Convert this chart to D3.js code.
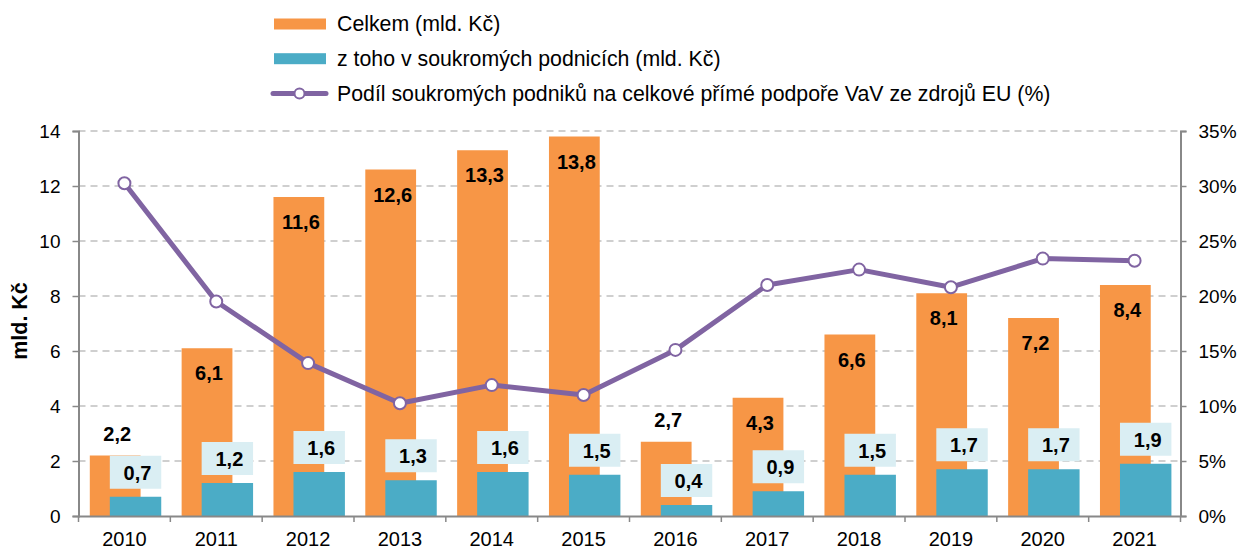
<!DOCTYPE html>
<html>
<head>
<meta charset="utf-8">
<script src="https://cdn.jsdelivr.net/npm/d3@7"></script>
<style>
	body { margin: 0; background: #fff; }
	svg { display: block; font-family: "Liberation Sans", Arial, sans-serif; }
</style>
</head>
<body>
<svg id="chart" width="1242" height="551"></svg>
<script>
	'use strict';

	var years = ["2010", "2011", "2012", "2013", "2014", "2015", "2016", "2017", "2018", "2019", "2020", "2021"];
	var celkem = [2.2, 6.1, 11.6, 12.6, 13.3, 13.8, 2.7, 4.3, 6.6, 8.1, 7.2, 8.4];
	var soukrome = [0.7, 1.2, 1.6, 1.3, 1.6, 1.5, 0.4, 0.9, 1.5, 1.7, 1.7, 1.9];
	var podil = [30.25, 19.5, 13.9, 10.25, 11.9, 11.0, 15.1, 21.0, 22.4, 20.8, 23.4, 23.2];
	var leftTicks = [0, 2, 4, 6, 8, 10, 12, 14];
	var rightTicks = [0, 5, 10, 15, 20, 25, 30, 35];
	var legendNames = [
		"Celkem (mld. Kč)",
		"z toho v soukromých podnicích (mld. Kč)",
		"Podíl soukromých podniků na celkové přímé podpoře VaV ze zdrojů EU (%)"
	];

	var orange = "#F79646",
		teal = "#4BACC6",
		purple = "#8064A2",
		boxFill = "#DAEEF3",
		axisGrey = "#888888",
		gridGrey = "#C0C0C0";

	var fmt = function (v) {
		return d3.format(".1f")(v).replace(".", ",");
	};

	var svg = d3.select("#chart");
	var plotLeft = 78.5, plotRight = 1180.5, plotTop = 131, plotBottom = 516;

	var x = d3.scaleBand().domain(years).range([plotLeft, plotRight]).padding(0);
	var y = d3.scaleLinear().domain([0, 14]).range([plotBottom, plotTop]);
	var y2 = d3.scaleLinear().domain([0, 35]).range([plotBottom, plotTop]);
	var bw = x.bandwidth();

	// gridlines
	svg.append("g").selectAll("line")
		.data(leftTicks.filter(function (d) { return d > 0; }))
		.enter().append("line")
		.attr("x1", plotLeft).attr("x2", plotRight)
		.attr("y1", function (d) { return y(d); })
		.attr("y2", function (d) { return y(d); })
		.attr("stroke", gridGrey)
		.attr("stroke-width", 1.5)
		.attr("stroke-dasharray", "7,5");

	// bars
	svg.append("g").selectAll("rect")
		.data(celkem)
		.enter().append("rect")
		.attr("x", function (d, i) { return x(years[i]) + bw * 0.123; })
		.attr("width", bw * 0.553)
		.attr("y", function (d) { return y(d); })
		.attr("height", function (d) { return y(0) - y(d); })
		.attr("fill", orange);

	svg.append("g").selectAll("rect")
		.data(soukrome)
		.enter().append("rect")
		.attr("x", function (d, i) { return x(years[i]) + bw * 0.341; })
		.attr("width", bw * 0.56)
		.attr("y", function (d) { return y(d); })
		.attr("height", function (d) { return y(0) - y(d); })
		.attr("fill", teal);

	// label boxes for teal bars
	var boxes = svg.append("g").selectAll("g")
		.data(soukrome)
		.enter().append("g")
		.attr("transform", function (d, i) {
			return "translate(" + (x(years[i]) + bw * 0.341) + "," + (y(d) - 8 - 33) + ")";
		});
	boxes.append("rect")
		.attr("width", bw * 0.56)
		.attr("height", 33)
		.attr("fill", boxFill);
	boxes.append("text")
		.attr("x", bw * 0.28 + 2)
		.attr("y", 17)
		.attr("dy", "0.35em")
		.attr("text-anchor", "middle")
		.attr("font-size", 20)
		.attr("font-weight", "bold")
		.text(fmt);

	// axes
	var gLeft = svg.append("g").attr("transform", "translate(" + plotLeft + ",0)")
		.call(d3.axisLeft(y).tickValues(leftTicks).tickSize(6).tickPadding(12).tickFormat(d3.format("d")));
	var gRight = svg.append("g").attr("transform", "translate(" + plotRight + ",0)")
		.call(d3.axisRight(y2).tickValues(rightTicks).tickSize(6).tickPadding(12).tickFormat(function (d) { return d + "%"; }));
	var gBottom = svg.append("g").attr("transform", "translate(0," + plotBottom + ")")
		.call(d3.axisBottom(x).tickSize(0).tickPadding(16));

	[gLeft, gRight, gBottom].forEach(function (g) {
		g.select(".domain").attr("stroke", axisGrey).attr("stroke-width", 2);
		g.selectAll(".tick line").attr("stroke", axisGrey).attr("stroke-width", 1.5);
		g.selectAll("text").attr("fill", "#000").attr("font-family", "Liberation Sans, Arial, sans-serif");
	});
	gLeft.selectAll("text").attr("font-size", 19);
	gRight.selectAll("text").attr("font-size", 19);
	gBottom.selectAll("text").attr("font-size", 20);

	// category boundary ticks on the x axis
	svg.append("g").selectAll("line")
		.data(years.map(function (d) { return x(d); }).concat([plotRight]))
		.enter().append("line")
		.attr("x1", function (d) { return d; })
		.attr("x2", function (d) { return d; })
		.attr("y1", plotBottom).attr("y2", plotBottom + 6)
		.attr("stroke", axisGrey).attr("stroke-width", 1.5);

	// share line
	var line = d3.line()
		.x(function (d, i) { return x(years[i]) + bw / 2; })
		.y(function (d) { return y2(d); });
	svg.append("path")
		.datum(podil)
		.attr("d", line)
		.attr("fill", "none")
		.attr("stroke", purple)
		.attr("stroke-width", 5)
		.attr("stroke-linejoin", "round");
	svg.append("g").selectAll("circle")
		.data(podil)
		.enter().append("circle")
		.attr("cx", function (d, i) { return x(years[i]) + bw / 2; })
		.attr("cy", function (d) { return y2(d); })
		.attr("r", 6)
		.attr("fill", "#fff")
		.attr("stroke", purple)
		.attr("stroke-width", 2);

	// labels for orange bars
	svg.append("g").selectAll("text")
		.data(celkem)
		.enter().append("text")
		.attr("x", function (d, i) { return x(years[i]) + bw * 0.123 + bw * 0.2765 + 2; })
		.attr("y", function (d) { return d < 3 ? y(d) - 22 : y(d) + 25; })
		.attr("dy", "0.35em")
		.attr("text-anchor", "middle")
		.attr("font-size", 20)
		.attr("font-weight", "bold")
		.text(fmt);

	// y axis title
	svg.append("text")
		.attr("transform", "translate(19,321) rotate(-90)")
		.attr("dy", "0.35em")
		.attr("text-anchor", "middle")
		.attr("font-size", 21.5)
		.attr("font-weight", "bold")
		.text("mld. Kč");

	// legend
	var legend = svg.append("g").selectAll("g")
		.data(legendNames)
		.enter().append("g")
		.attr("transform", function (d, i) { return "translate(0," + (24 + i * 34.7) + ")"; });
	legend.filter(function (d, i) { return i < 2; })
		.append("rect")
		.attr("x", 274).attr("y", -5.5)
		.attr("width", 52).attr("height", 11)
		.attr("fill", function (d, i) { return i === 0 ? orange : teal; });
	var lineItem = legend.filter(function (d, i) { return i === 2; });
	lineItem.append("line")
		.attr("x1", 273).attr("x2", 326)
		.attr("stroke", purple).attr("stroke-width", 5).attr("stroke-linecap", "round");
	lineItem.append("circle")
		.attr("cx", 299.5).attr("r", 5)
		.attr("fill", "#fff").attr("stroke", purple).attr("stroke-width", 2);
	legend.append("text")
		.attr("x", 337)
		.attr("dy", "0.35em")
		.attr("font-size", 21.3)
		.text(function (d) { return d; });
</script>
</body>
</html>
